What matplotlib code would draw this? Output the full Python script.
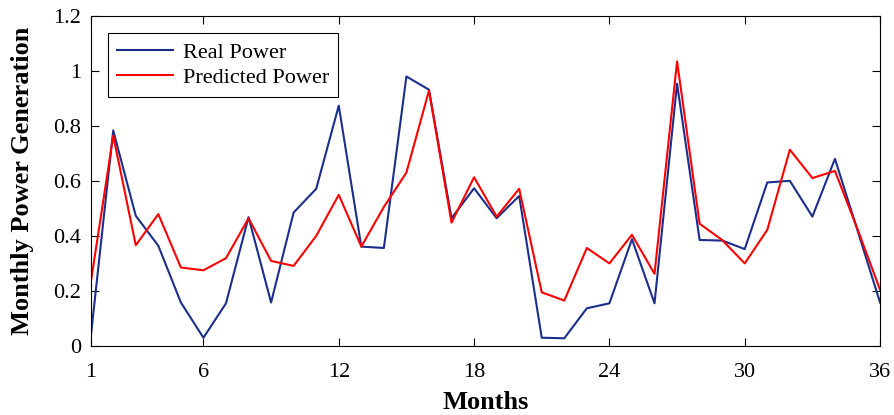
import matplotlib
matplotlib.use('Agg')
import matplotlib.pyplot as plt

plt.rcParams['font.family'] = ['Liberation Serif', 'DejaVu Serif']

months = list(range(1, 37))
real_power = [0.03, 0.783, 0.473, 0.364, 0.158, 0.03, 0.155, 0.468, 0.158, 0.485,
              0.571, 0.873, 0.361, 0.356, 0.979, 0.931, 0.464, 0.573, 0.464, 0.545,
              0.03, 0.028, 0.137, 0.155, 0.388, 0.155, 0.953, 0.385, 0.383, 0.352,
              0.594, 0.600, 0.470, 0.680, 0.420, 0.158]
predicted_power = [0.228, 0.764, 0.366, 0.479, 0.285, 0.275, 0.319, 0.464, 0.309, 0.291,
                   0.400, 0.549, 0.361, 0.505, 0.630, 0.928, 0.448, 0.613, 0.470, 0.571,
                   0.195, 0.165, 0.356, 0.300, 0.404, 0.262, 1.034, 0.444, 0.385, 0.300,
                   0.422, 0.713, 0.610, 0.636, 0.425, 0.204]
xticks = [1, 6, 12, 18, 24, 30, 36]
yticks = [0, 0.2, 0.4, 0.6, 0.8, 1, 1.2]
yticklabels = ['0', '0.2', '0.4', '0.6', '0.8', '1', '1.2']

fig = plt.figure(figsize=(8.95, 4.15), dpi=100)
ax = fig.add_axes([0.1013, 0.1663, 0.882, 0.796])

ax.plot(months, real_power, color='#1c2e8c', lw=1.5, label='Real Power')
ax.plot(months, predicted_power, color='#ff0000', lw=1.5, label='Predicted Power')

ax.set_xlim(1, 36)
ax.set_ylim(0, 1.2)
ax.set_xticks(xticks)
ax.set_yticks(yticks)
ax.set_yticklabels(yticklabels)
ax.tick_params(direction='in', top=True, right=True, length=6, width=0.8,
               labelsize=16)
ax.tick_params(axis='x', pad=12)
ax.tick_params(axis='y', pad=7)
for s in ax.spines.values():
    s.set_linewidth(0.8)

ax.set_xlabel('Months', fontsize=19, fontweight='bold', labelpad=7)
ax.set_ylabel('Monthly Power Generation', fontsize=19, fontweight='bold', labelpad=14)

leg = ax.legend(loc='upper left', fontsize=16, fancybox=False, edgecolor='black',
                framealpha=1, borderaxespad=0.8, handlelength=2.5,
                borderpad=0.4, labelspacing=0.2, handletextpad=0.45)
leg.get_frame().set_linewidth(0.8)

fig.savefig('out.png', dpi=100)
